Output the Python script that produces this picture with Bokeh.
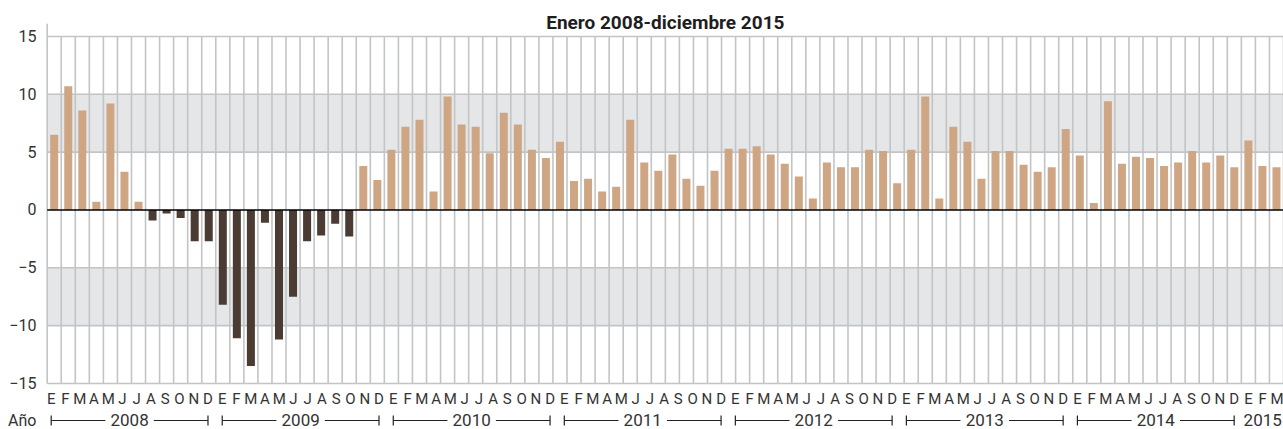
import numpy as np
from bokeh.plotting import figure
from bokeh.models import Range1d, FixedTicker
from bokeh.core.properties import value
from bokeh.embed import file_html
from bokeh.resources import INLINE

# ---------------- data ----------------
title_text = "Enero 2008-diciembre 2015"
values = [
    6.5, 10.7, 8.6, 0.7, 9.2, 3.3, 0.7, -0.9, -0.3, -0.7, -2.7, -2.7,
    -8.2, -11.1, -13.5, -1.1, -11.2, -7.5, -2.7, -2.2, -1.2, -2.3, 3.8, 2.6,
    5.2, 7.2, 7.8, 1.6, 9.8, 7.4, 7.2, 4.9, 8.4, 7.4, 5.2, 4.5,
    5.9, 2.5, 2.7, 1.6, 2.0, 7.8, 4.1, 3.4, 4.8, 2.7, 2.1, 3.4,
    5.3, 5.3, 5.5, 4.8, 4.0, 2.9, 1.0, 4.1, 3.7, 3.7, 5.2, 5.1,
    2.3, 5.2, 9.8, 1.0, 7.2, 5.9, 2.7, 5.1, 5.1, 3.9, 3.3, 3.7,
    7.0, 4.7, 0.6, 9.4, 4.0, 4.6, 4.5, 3.8, 4.1, 5.1, 4.1, 4.7,
    3.7, 6.0, 3.8, 3.7,
]
month_labels = ["E", "F", "M", "A", "M", "J", "J", "A", "S", "O", "N", "D"] * 7 + ["E", "F", "M"]
years = ["2008", "2009", "2010", "2011", "2012", "2013", "2014", "2015"]
year_months = [12, 12, 12, 12, 12, 12, 12, 3]
y_ticks = [15, 10, 5, 0, -5, -10, -15]
bands = [(5, 10), (-10, -5)]
year_axis_label = "Año"

# ---------------- styles ----------------
POS = "#cfa683"
NEG = "#4a3c32"
GRID = "#c2c4c6"
BAND = "#e5e6e8"
TXT = "#333333"
FONT = "Roboto"

n = len(values)
n_lab = len(month_labels)

p = figure(width=1283, height=429, output_backend="svg", toolbar_location=None,
           x_range=Range1d(-0.12, n), y_range=Range1d(-18.98, 18.11),
           x_axis_location=None, min_border_left=45, min_border_right=0,
           min_border_top=0, min_border_bottom=0)
p.extra_x_ranges = {"lab": Range1d(0.10, 86.96)}
p.outline_line_color = None
p.xgrid.visible = False
p.ygrid.visible = False
p.background_fill_color = "white"
p.border_fill_color = "white"

# shaded bands
p.quad(left=0, right=n, bottom=[b[0] for b in bands], top=[b[1] for b in bands],
       fill_color=BAND, line_color=None)

# vertical grid lines (cell boundaries)
xs_grid = list(range(1, n + 1))
p.segment(x0=xs_grid, y0=min(y_ticks), x1=xs_grid, y1=max(y_ticks), line_color=GRID, line_width=1.6)
# left axis line
p.segment(x0=[0], y0=[min(y_ticks)], x1=[0], y1=[16.1], line_color=GRID, line_width=1.6)
# horizontal grid lines
hl = [t for t in y_ticks if t != 0]
p.segment(x0=0, y0=hl, x1=n, y1=hl, line_color=GRID, line_width=1.6)

# bars
xs = np.arange(n) + 0.5
colors = [POS if v >= 0 else NEG for v in values]
p.vbar(x=xs, bottom=0, top=values, width=0.57, fill_color=colors, line_color=None)

# zero line
p.segment(x0=[0], y0=[0], x1=[n], y1=[0], line_color="black", line_width=1.6)

# title
p.text(x=[n / 2], y=[16.2], text=[title_text], text_align="center", text_baseline="middle",
       text_font=value(FONT), text_font_size="19px", text_font_style="bold", text_color="#1e1e1e")

# month labels
p.text(x=np.arange(n_lab) + 0.5, y=-16.3, text=month_labels, x_range_name="lab",
       text_align="center", text_baseline="middle", text_font=value(FONT),
       text_font_size="15px", text_color=TXT)

# year brackets
yy = -18.2
gap = 1.7
seg_x0, seg_x1, tick_x = [], [], []
yx, ytxt = [], []
start = 0
for yr, m in zip(years, year_months):
    xl = start + 0.5
    xr = start + m - 0.5
    c = (xl + xr) / 2
    yx.append(c)
    ytxt.append(yr)
    if m == 12:
        seg_x0 += [xl, c + gap]
        seg_x1 += [c - gap, xr]
        tick_x += [xl, xr]
    start += m
p.segment(x0=seg_x0, y0=yy, x1=seg_x1, y1=yy, x_range_name="lab", line_color="#222222", line_width=1.2)
p.segment(x0=tick_x, y0=yy - 0.43, x1=tick_x, y1=yy + 0.43, x_range_name="lab",
          line_color="#222222", line_width=1.2)
p.text(x=yx, y=yy, text=ytxt, x_range_name="lab", text_align="center", text_baseline="middle",
       text_font=value(FONT), text_font_size="17px", text_color=TXT)

# y axis
p.yaxis.ticker = FixedTicker(ticks=y_ticks + [yy])
p.yaxis.major_label_overrides = {yy: year_axis_label}
p.yaxis.axis_line_color = None
p.yaxis.major_tick_line_color = None
p.yaxis.minor_tick_line_color = None
p.yaxis.major_label_standoff = 3
p.yaxis.major_label_text_font = FONT
p.yaxis.major_label_text_font_size = "16px"
p.yaxis.major_label_text_color = TXT

open("out.html", "w").write(file_html(p, INLINE))
